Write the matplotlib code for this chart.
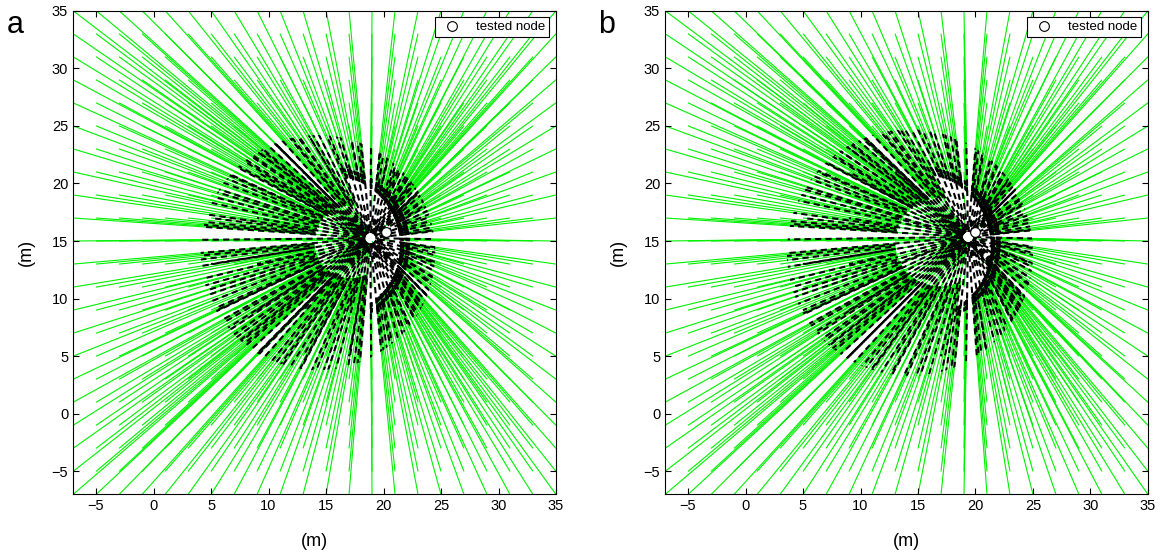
import numpy as np
import matplotlib.pyplot as plt
from matplotlib.collections import LineCollection
from matplotlib.lines import Line2D
from matplotlib.patches import Circle

plt.rcParams['font.family'] = ['Liberation Sans', 'DejaVu Sans']

# grid of candidate positions (m)
grid_x = [-7, -5, -3, -1, 1, 3, 5, 7, 9, 11, 13, 15, 17, 19, 21, 23, 25, 27, 29, 31, 33, 35]
grid_y = [-7, -5, -3, -1, 1, 3, 5, 7, 9, 11, 13, 15, 17, 19, 21, 23, 25, 27, 29, 31, 33, 35]

panel_labels = ['a', 'b']
tested_node = [(20.2, 15.8), (20.0, 15.8)]
converge_pt = [(18.85, 15.25), (19.35, 15.35)]
outer_ring = [((14.3, 14.0), 10.2), ((14.3, 14.0), 10.7)]
inner_ring = [((15.4, 14.6), 6.3), ((15.2, 14.6), 6.4)]
crescent_cut = [6.0, 6.4]
end_gap = [0.45, 0.45]
inner_reach = [0.5, 0.6]

xticks = [-5, 0, 5, 10, 15, 20, 25, 30, 35]
yticks = [-5, 0, 5, 10, 15, 20, 25, 30, 35]
lim = (-7, 35)


def ray_circle(c, u, ci, ri):
    w = c - ci
    b = np.dot(u, w)
    disc = b * b - (np.dot(w, w) - ri ** 2)
    return -b + np.sqrt(max(disc, 0))


def build_segments(c, inner, cut, gap, reach):
    green, black, phase, rim = [], [], [], []
    c = np.array(c)
    ci, ri = np.array(inner[0]), inner[1]
    for i, gx in enumerate(grid_x):
        for j, gy in enumerate(grid_y):
            p = np.array([gx, gy], float)
            d = np.linalg.norm(p - c)
            u = (p - c) / d
            r_in = ray_circle(c, u, ci, ri)
            on_edge = gx in lim or gy in lim
            if on_edge:
                r_end = gap
            elif d <= r_in:
                r_end = max(gap, 0.5 * d)
            elif r_in < cut:
                r_end = r_in
            else:
                r_end = reach * r_in
            if r_in < cut and d > r_in:
                rim.append([c + u * (r_in + 0.6), c + u * max(r_in - 0.4, gap)])
                green.append([p, c + u * r_in])
            else:
                green.append([p, c + u * r_end])
            if on_edge or (i % 2 == 0 and j % 2 == 0):
                black.append([p, c + u * r_end])
                phase.append((i * 7 + j * 3) % 5)
    return green, black, phase, rim


fig = plt.figure(figsize=(11.63, 5.6), dpi=100)
lefts = [0.0628, 0.5718]
for k in range(2):
    ax = fig.add_axes([lefts[k], 0.117, 0.4153, 0.864])
    green, black, phase, rim = build_segments(converge_pt[k], inner_ring[k], crescent_cut[k],
                                              end_gap[k], inner_reach[k])
    ax.add_collection(LineCollection(green, colors='#00f000', linewidths=0.8, zorder=1))
    dash = LineCollection(black, colors='black', linewidths=1.5,
                          linestyles=[(ph, (3, 2)) for ph in phase], zorder=2)
    ax.add_collection(dash)
    dash.set_clip_path(Circle(outer_ring[k][0], outer_ring[k][1], transform=ax.transData))
    ax.add_collection(LineCollection(rim, colors='black', linewidths=1.2,
                                     linestyles=[(0, (2.5, 1))], zorder=2))
    ax.plot(*tested_node[k], 'o', ms=7, mfc='white', mec='black', mew=0.8, zorder=3)
    ax.set_xlim(*lim)
    ax.set_ylim(*lim)
    ax.set_xticks(xticks)
    ax.set_yticks(yticks)
    ax.tick_params(direction='in', top=True, right=True, labelsize=10.5, length=4)
    ax.set_xlabel('(m)', fontsize=13, labelpad=14)
    ax.set_ylabel('(m)', fontsize=13, labelpad=12)
    h = Line2D([], [], ls='none', marker='o', ms=7, mfc='white', mec='black', mew=0.8)
    leg = ax.legend([h], ['tested node'], loc='upper right', fontsize=9.5, fancybox=False,
                    framealpha=1, edgecolor='black', borderpad=0.3, handletextpad=0.8,
                    borderaxespad=0.5)
    leg.get_frame().set_linewidth(0.8)
    fig.text(lefts[k] - 0.05, 0.955, panel_labels[k], fontsize=22, ha='center', va='center')

fig.savefig('out.png', dpi=100)
